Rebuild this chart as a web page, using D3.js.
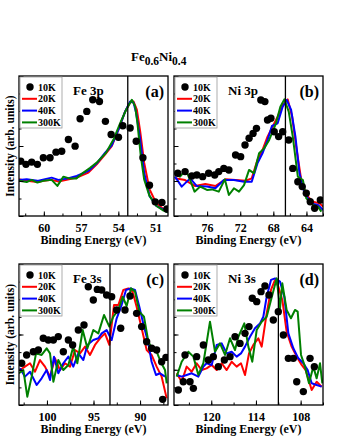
<!DOCTYPE html>
<html>
<head>
<meta charset="utf-8">
<script src="https://cdn.jsdelivr.net/npm/d3@7"></script>
<style>
  body { margin: 0; background: #fff; }
  text { font-family: "Liberation Serif", "DejaVu Serif", serif; font-weight: bold; }
</style>
</head>
<body>
<svg id="canvas" width="340" height="440"></svg>
<script>
// series: [binding energy (eV), intensity (norm.)]
const fe3p10K = [[61.86,0.392],[61.44,0.369],[60.98,0.385],[60.52,0.369],[60.04,0.416],[59.5,0.416],[59.02,0.456],[58.56,0.463],[58.02,0.546],[57.48,0.499],[57.08,0.695],[56.54,0.747],[56.06,0.83],[55.52,0.818],[55.04,0.676],[54.58,0.582],[53.99,0.562],[53.64,0.645],[53.05,0.629],[52.56,0.534],[52.02,0.416],[51.49,0.22],[51.03,0.101],[50.49,0.097],[50.09,0.05]];
const fe3p20K = [[62,0.262],[61.38,0.251],[60.52,0.243],[60.04,0.251],[59.37,0.258],[58.83,0.246],[58.16,0.258],[57.35,0.274],[56.41,0.31],[55.74,0.369],[55.06,0.44],[54.53,0.499],[53.99,0.617],[53.45,0.747],[53.05,0.811],[52.78,0.818],[52.51,0.759],[52.24,0.605],[51.92,0.381],[51.49,0.191],[50.95,0.092],[50.36,0.05],[50.01,0.031]];
const fe3p40K = [[62,0.258],[61.38,0.262],[60.52,0.251],[59.37,0.274],[58.83,0.258],[58.16,0.267],[57.35,0.286],[56.41,0.322],[55.74,0.376],[55.06,0.452],[54.53,0.504],[53.99,0.617],[53.45,0.747],[53.05,0.818],[52.78,0.811],[52.56,0.735],[52.24,0.546],[51.92,0.31],[51.49,0.144],[50.95,0.073],[50.36,0.045],[50.01,0.026]];
const fe3p300K = [[62,0.251],[61.38,0.243],[60.98,0.258],[60.52,0.239],[60.04,0.251],[59.37,0.258],[58.91,0.215],[58.42,0.281],[57.89,0.267],[57.4,0.267],[56.81,0.31],[56.27,0.345],[55.74,0.381],[54.99,0.452],[54.39,0.546],[53.85,0.664],[53.37,0.759],[52.91,0.83],[52.65,0.783],[52.46,0.664],[52.19,0.428],[51.92,0.262],[51.49,0.144],[50.95,0.073],[50.36,0.038],[50.01,0.026]];

const ni3p10K = [[79.55,0.305],[78.66,0.317],[77.85,0.286],[77.24,0.293],[76.54,0.281],[75.81,0.305],[75.08,0.293],[74.59,0.317],[73.98,0.34],[73.37,0.329],[72.56,0.436],[71.95,0.424],[71.42,0.507],[70.93,0.555],[70.45,0.59],[70.04,0.626],[69.51,0.829],[69.02,0.817],[68.7,0.686],[68.29,0.698],[67.89,0.602],[67.36,0.567],[66.87,0.602],[66.14,0.543],[65.65,0.34],[65.04,0.245],[64.51,0.21],[64.02,0.162],[63.54,0.102],[63.01,0.055],[62.32,0.114]];
const ni3p20K = [[79.88,0.269],[78.66,0.257],[77.44,0.214],[76.22,0.229],[75,0.214],[73.78,0.262],[72.56,0.257],[71.34,0.252],[70.61,0.269],[69.92,0.4],[69.31,0.471],[68.7,0.567],[68.09,0.638],[67.48,0.71],[66.87,0.793],[66.26,0.833],[65.73,0.71],[65.24,0.495],[64.63,0.257],[64.02,0.15],[63.21,0.102],[62.4,0.09],[61.99,0.067]];
const ni3p40K = [[79.88,0.281],[79.07,0.21],[78.05,0.269],[77.24,0.214],[76.02,0.21],[75,0.198],[73.98,0.257],[72.76,0.257],[71.54,0.245],[70.61,0.245],[69.92,0.376],[69.31,0.448],[68.7,0.543],[68.17,0.643],[67.48,0.662],[66.87,0.781],[66.38,0.829],[65.85,0.757],[65.33,0.567],[64.84,0.305],[64.23,0.162],[63.41,0.09],[62.6,0.079],[61.99,0.043]];
const ni3p300K = [[79.88,0.305],[79.27,0.281],[78.58,0.329],[78.05,0.257],[77.52,0.174],[76.83,0.21],[76.02,0.186],[75.41,0.19],[74.59,0.174],[73.86,0.262],[73.37,0.15],[72.76,0.198],[72.15,0.174],[71.54,0.221],[70.93,0.329],[70.33,0.305],[69.72,0.448],[69.11,0.483],[68.5,0.543],[67.68,0.662],[67.15,0.781],[66.67,0.833],[66.14,0.745],[65.65,0.567],[65.04,0.281],[64.43,0.257],[64.02,0.126],[63.21,0.079],[62.6,0.067],[62.2,0.031]];

const fe3s10K = [[102.71,0.296],[102.18,0.355],[101.46,0.378],[100.92,0.39],[100.39,0.473],[99.85,0.461],[99.31,0.461],[98.78,0.485],[98.24,0.378],[97.7,0.461],[97.24,0.426],[96.63,0.532],[96.02,0.567],[95.56,0.839],[95.02,0.745],[94.59,0.82],[94.12,0.816],[93.59,0.78],[93.05,0.768],[92.51,0.674],[92.08,0.544],[91.62,0.674],[91.08,0.773],[90.37,0.65],[89.83,0.556],[89.29,0.449],[88.76,0.402],[88.22,0.39],[87.68,0.307],[87.22,0.338],[87.57,0.04]];
const fe3s20K = [[102.89,0.248],[102.36,0.272],[101.82,0.296],[101.28,0.236],[100.75,0.319],[100.21,0.272],[99.67,0.201],[99.13,0.331],[98.6,0.248],[98.06,0.296],[97.52,0.272],[96.99,0.39],[96.45,0.366],[95.91,0.414],[95.38,0.355],[94.84,0.426],[94.3,0.473],[93.77,0.508],[93.3,0.426],[92.8,0.709],[92.33,0.709],[91.8,0.816],[91.26,0.827],[90.8,0.804],[90.37,0.697],[89.83,0.544],[89.29,0.39],[88.76,0.355],[88.22,0.272],[87.68,0.201],[87.14,0.047]];
const fe3s40K = [[102.89,0.26],[102.36,0.201],[101.82,0.236],[101.1,0.142],[100.57,0.189],[100.03,0.248],[99.67,0.177],[99.24,0.343],[98.78,0.225],[98.24,0.296],[97.7,0.343],[97.17,0.272],[96.63,0.366],[96.09,0.319],[95.66,0.426],[95.02,0.461],[94.48,0.473],[94.12,0.508],[93.59,0.532],[93.05,0.461],[92.51,0.615],[91.98,0.709],[91.51,0.816],[91.01,0.827],[90.54,0.816],[90.08,0.697],[89.58,0.556],[89.11,0.437],[88.76,0.307],[88.29,0.213],[87.86,0.225],[87.32,0.201]];
const fe3s300K = [[103,0.225],[102.53,0.248],[102.11,0.059],[101.64,0.201],[101.17,0.366],[100.57,0.355],[100.03,0.402],[99.67,0.366],[99.31,0.165],[98.78,0.319],[98.24,0.248],[97.7,0.284],[97.17,0.414],[96.74,0.296],[96.16,0.532],[95.66,0.402],[95.02,0.532],[94.48,0.508],[93.87,0.638],[93.3,0.556],[92.87,0.627],[92.33,0.674],[91.87,0.768],[91.44,0.702],[90.97,0.827],[90.54,0.804],[90.08,0.662],[89.58,0.626],[89.11,0.449],[88.65,0.39],[88.22,0.378],[87.79,0.307],[87.32,0.248],[87.14,0.154]];

const ni3s10K = [[124.42,0.106],[123.75,0.165],[123.52,0.355],[122.85,0.165],[122.4,0.118],[121.96,0.343],[121.06,0.426],[120.39,0.319],[119.72,0.343],[119.05,0.272],[118.24,0.319],[117.48,0.343],[116.81,0.484],[116.14,0.437],[115.47,0.508],[114.93,0.556],[114.49,0.757],[113.9,0.733],[113.32,0.804],[112.79,0.844],[112.25,0.78],[111.67,0.603],[111,0.662],[110.32,0.496],[109.65,0.331],[108.98,0.331],[108.53,0.165],[107.64,0.095],[106.74,0.331],[106.16,0.272]];
const ni3s20K = [[124.64,0.225],[123.97,0.165],[123.3,0.272],[122.63,0.236],[121.96,0.296],[121.29,0.248],[120.62,0.26],[119.94,0.284],[119.27,0.248],[118.6,0.296],[117.93,0.248],[117.26,0.307],[116.59,0.272],[116.01,0.296],[115.47,0.213],[114.93,0.366],[114.35,0.426],[113.68,0.473],[113.23,0.414],[112.56,0.65],[111.98,0.816],[111.44,0.887],[110.99,0.839],[110.46,0.745],[109.88,0.52],[109.21,0.414],[108.53,0.343],[107.86,0.284],[107.33,0.248],[106.52,0.106],[105.85,0.165],[105.18,0.13]];
const ni3s40K = [[124.64,0.213],[123.97,0.201],[123.3,0.213],[122.63,0.225],[121.73,0.201],[121.06,0.272],[120.62,0.296],[119.94,0.284],[119.27,0.426],[118.6,0.437],[117.93,0.366],[117.26,0.378],[116.59,0.343],[116.01,0.366],[115.47,0.414],[114.8,0.484],[114.13,0.544],[113.46,0.579],[113.01,0.626],[112.56,0.768],[111.98,0.887],[111.44,0.898],[110.77,0.875],[110.19,0.768],[109.65,0.508],[108.98,0.402],[108.31,0.331],[107.64,0.296],[107.06,0.248],[106.52,0.154],[105.85,0.142],[105.18,0.13]];
const ni3s300K = [[124.64,0.201],[123.97,0.307],[123.08,0.378],[122.4,0.343],[121.73,0.213],[121.06,0.296],[120.17,0.591],[119.5,0.378],[118.83,0.437],[118.15,0.355],[117.48,0.473],[116.81,0.39],[116.36,0.484],[115.56,0.579],[115.02,0.414],[114.49,0.307],[113.9,0.532],[113.23,0.591],[112.56,0.626],[111.98,0.745],[111.22,0.898],[110.77,0.686],[110.46,0.863],[109.88,0.674],[109.3,0.615],[108.76,0.674],[108.4,0.662],[107.95,0.355],[107.42,0.272],[106.88,0.154],[106.3,0.272],[105.85,0.189],[105.4,0.296],[105.09,0.154]];

const legendLabels = ['10K', '20K', '40K', '300K'];
const lineColors = ['#ff0000', '#0000ff', '#008000'];

const feTicks3p = [60, 57, 54, 51];
const niTicks3p = [76, 72, 68, 64];
const feTicks3s = [100, 95, 90];
const niTicks3s = [120, 114, 108];

const svg = d3.select('#canvas');

// title
const title = svg.append('text').attr('x', 131).attr('y', 61).style('font-size', '13px');
title.append('tspan').text('Fe');
title.append('tspan').attr('dy', 4).style('font-size', '11.5px').text('0.6');
title.append('tspan').attr('dy', -4).text('Ni');
title.append('tspan').attr('dy', 4).style('font-size', '11.5px').text('0.4');

const panels = [
  {id: 'a', name: 'Fe 3p', x0: 19, x1: 168, y0: 76, y1: 216, dom: [62, 50], ticks: feTicks3p, minor: 1.5, vline: 53.24,
   dots: fe3p10K, lines: [fe3p20K, fe3p40K, fe3p300K], ylab: true},
  {id: 'b', name: 'Ni 3p', x0: 174, x1: 323, y0: 76, y1: 216, dom: [80, 62], ticks: niTicks3p, minor: 2, vline: 66.54,
   dots: ni3p10K, lines: [ni3p20K, ni3p40K, ni3p300K], ylab: false},
  {id: 'c', name: 'Fe 3s', x0: 19, x1: 168, y0: 264, y1: 405, dom: [103, 87], ticks: feTicks3s, minor: 2.5, vline: 93.23,
   dots: fe3s10K, lines: [fe3s20K, fe3s40K, fe3s300K], ylab: true},
  {id: 'd', name: 'Ni 3s', x0: 174, x1: 323, y0: 264, y1: 405, dom: [125, 105], ticks: niTicks3s, minor: 3, vline: 110.99,
   dots: ni3s10K, lines: [ni3s20K, ni3s40K, ni3s300K], ylab: false}
];

panels.forEach(p => {
  const x = d3.scaleLinear().domain(p.dom).range([p.x0, p.x1]);
  const y = d3.scaleLinear().domain([0, 1]).range([p.y1, p.y0]);
  const g = svg.append('g');

  g.append('clipPath').attr('id', 'clip-' + p.id)
    .append('rect').attr('x', p.x0).attr('y', p.y0).attr('width', p.x1 - p.x0).attr('height', p.y1 - p.y0);

  const plot = g.append('g').attr('clip-path', 'url(#clip-' + p.id + ')');
  const line = d3.line().x(d => x(d[0])).y(d => y(d[1]));

  p.lines.forEach((s, i) => {
    plot.append('path').datum(s).attr('d', line)
      .attr('fill', 'none').attr('stroke', lineColors[i]).attr('stroke-width', 2).attr('stroke-linejoin', 'round');
  });

  plot.selectAll('circle').data(p.dots).join('circle')
    .attr('cx', d => x(d[0])).attr('cy', d => y(d[1])).attr('r', 3.7).attr('fill', '#000');

  plot.append('line').attr('x1', x(p.vline)).attr('x2', x(p.vline)).attr('y1', p.y0).attr('y2', p.y1)
    .attr('stroke', '#000').attr('stroke-width', 1.3);

  // x axis, ticks inward
  const minorVals = d3.range(Math.ceil(p.dom[1] / p.minor) * p.minor, p.dom[0], p.minor);
  g.append('g').attr('transform', 'translate(0,' + p.y1 + ')')
    .call(d3.axisBottom(x).tickValues(minorVals).tickSize(-2.5).tickFormat(''))
    .call(a => a.select('.domain').remove());
  const xa = g.append('g').attr('transform', 'translate(0,' + p.y1 + ')')
    .call(d3.axisBottom(x).tickValues(p.ticks).tickSizeInner(-4.5).tickSizeOuter(0).tickPadding(7).tickFormat(d3.format('d')));
  xa.select('.domain').remove();
  xa.selectAll('text').style('font-size', '12px').style('font-family', '"Liberation Serif", serif').style('font-weight', 'bold').attr('fill', '#000');

  // y axis, ticks inward, no labels
  g.append('g').attr('transform', 'translate(' + p.x0 + ',0)')
    .call(d3.axisLeft(y).tickValues(d3.range(0, 1.001, 0.125)).tickSize(-2.5).tickFormat(''))
    .call(a => a.select('.domain').remove());
  g.append('g').attr('transform', 'translate(' + p.x0 + ',0)')
    .call(d3.axisLeft(y).tickValues(d3.range(0, 1.001, 0.25)).tickSize(-4.5).tickFormat(''))
    .call(a => a.select('.domain').remove());

  g.append('rect').attr('x', p.x0).attr('y', p.y0).attr('width', p.x1 - p.x0).attr('height', p.y1 - p.y0)
    .attr('fill', 'none').attr('stroke', '#000').attr('stroke-width', 1.3);

  g.append('text').attr('x', (p.x0 + p.x1) / 2).attr('y', p.y1 + 28).attr('text-anchor', 'middle')
    .style('font-size', '12px').text('Binding Energy (eV)');

  if (p.ylab) {
    g.append('text').attr('transform', 'translate(' + (p.x0 - 5) + ',' + ((p.y0 + p.y1) / 2) + ') rotate(-90)')
      .attr('text-anchor', 'middle').style('font-size', '11.5px').text('Intensity (arb. units)');
  }

  g.append('text').attr('x', p.x0 + 54).attr('y', p.y0 + 19).style('font-size', '13px').text(p.name);
  g.append('text').attr('x', p.x1 - 4).attr('y', p.y0 + 21).attr('text-anchor', 'end')
    .style('font-size', '16px').text('(' + p.id + ')');

  // legend
  const lg = g.append('g').attr('transform', 'translate(' + (p.x0 + 1) + ',' + (p.y0 + 1) + ')');
  lg.append('rect').attr('width', 42).attr('height', 51).attr('fill', '#fff').attr('stroke', '#999').attr('stroke-width', 0.8);
  legendLabels.forEach((lab, i) => {
    const ry = 11 + i * 11.8;
    if (i === 0) {
      lg.append('circle').attr('cx', 10).attr('cy', ry - 1).attr('r', 3.7).attr('fill', '#000');
    } else {
      lg.append('line').attr('x1', 2).attr('x2', 17).attr('y1', ry - 1).attr('y2', ry - 1)
        .attr('stroke', lineColors[i - 1]).attr('stroke-width', 2);
    }
    lg.append('text').attr('x', 18).attr('y', ry + 2.5).style('font-size', '10px').text(lab);
  });
});
</script>
</body>
</html>
